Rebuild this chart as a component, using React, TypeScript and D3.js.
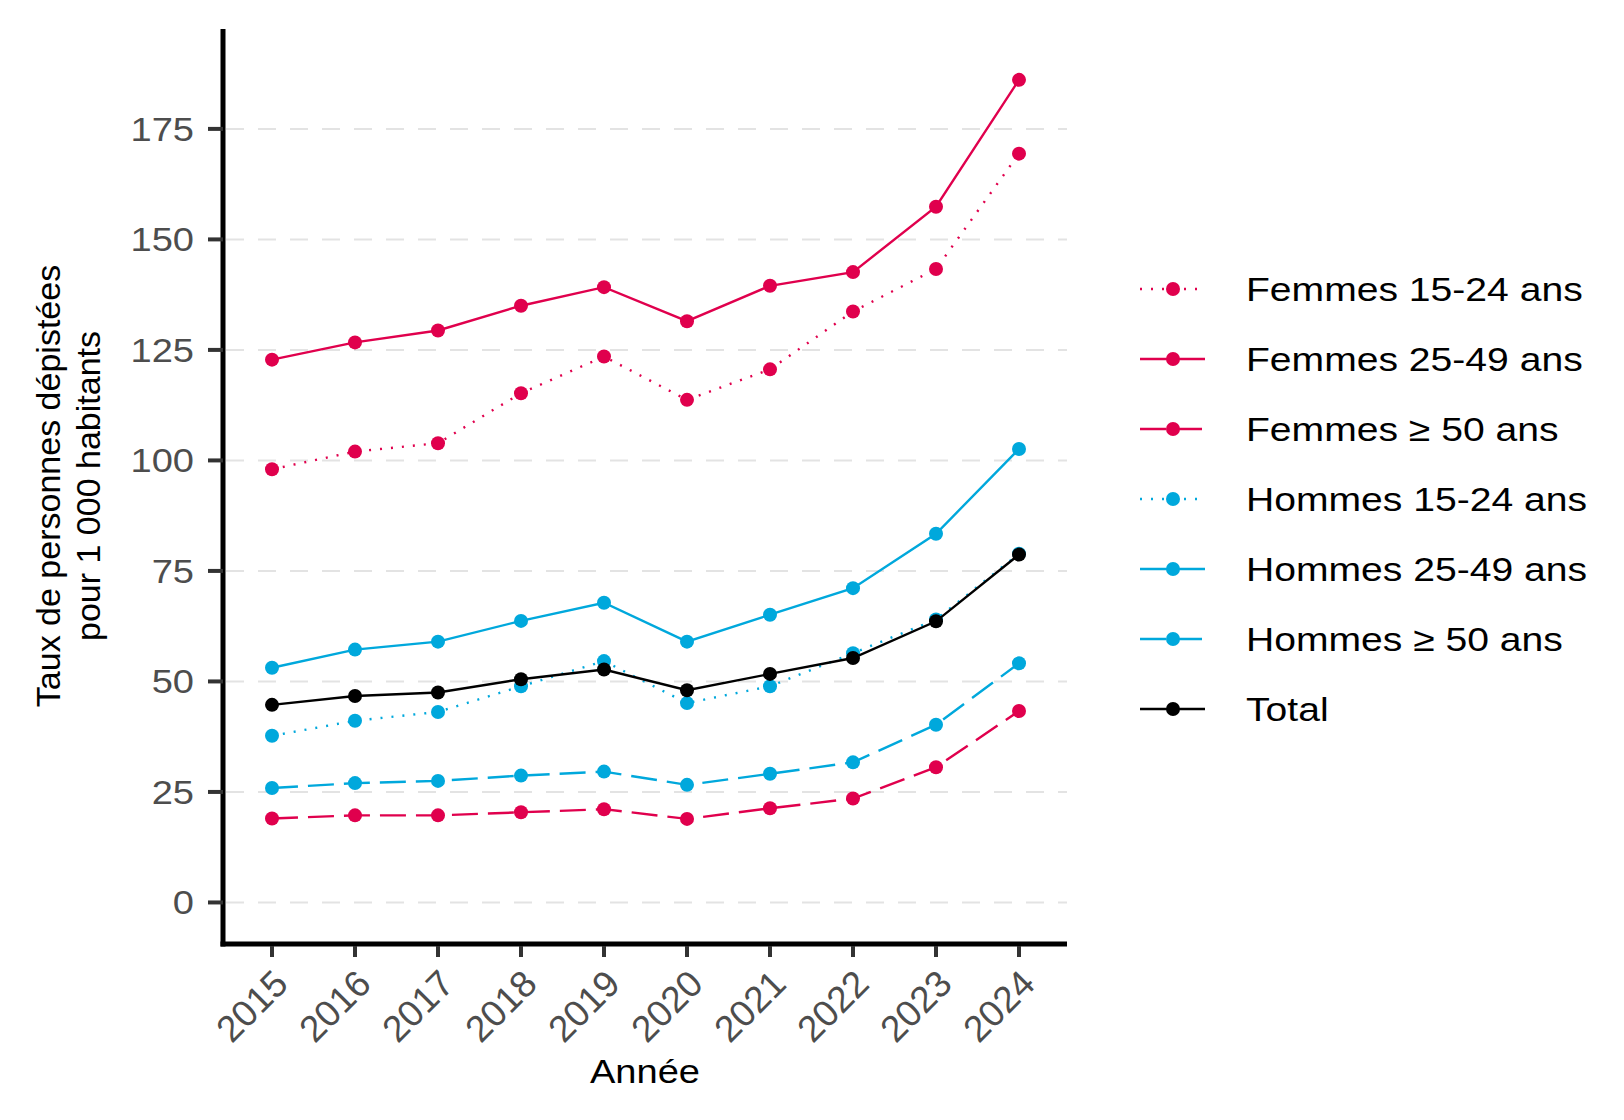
import React from 'react';
import * as d3 from 'd3';

const years = ['2015', '2016', '2017', '2018', '2019', '2020', '2021', '2022', '2023', '2024'];

const femmes1524 = [98.0, 102.0, 103.9, 115.2, 123.5, 113.7, 120.6, 133.7, 143.3, 169.4];
const femmes2549 = [122.8, 126.7, 129.4, 135.0, 139.2, 131.5, 139.5, 142.6, 157.4, 186.1];
const femmes50 = [19.0, 19.7, 19.7, 20.4, 21.1, 18.9, 21.3, 23.5, 30.6, 43.3];
const hommes1524 = [37.7, 41.1, 43.1, 48.9, 54.6, 45.1, 48.9, 56.4, 64.0, 78.9];
const hommes2549 = [53.1, 57.2, 59.0, 63.7, 67.8, 59.0, 65.1, 71.1, 83.4, 102.6];
const hommes50 = [25.9, 27.0, 27.5, 28.7, 29.6, 26.6, 29.1, 31.7, 40.2, 54.1];
const total = [44.7, 46.7, 47.5, 50.5, 52.7, 48.0, 51.7, 55.3, 63.6, 78.7];

const yTicks = [0, 25, 50, 75, 100, 125, 150, 175];

const ROSE = '#e0004d';
const CYAN = '#00a8dc';
const DOTTED = '2,9';
const DASHED = '26,10';

type Series = { name: string; values: number[]; color: string; dash: string | null };

const series: Series[] = [
  { name: 'Femmes 15-24 ans', values: femmes1524, color: ROSE, dash: DOTTED },
  { name: 'Femmes 25-49 ans', values: femmes2549, color: ROSE, dash: null },
  { name: 'Femmes ≥ 50 ans', values: femmes50, color: ROSE, dash: DASHED },
  { name: 'Hommes 15-24 ans', values: hommes1524, color: CYAN, dash: DOTTED },
  { name: 'Hommes 25-49 ans', values: hommes2549, color: CYAN, dash: null },
  { name: 'Hommes ≥ 50 ans', values: hommes50, color: CYAN, dash: DASHED },
  { name: 'Total', values: total, color: '#000000', dash: null },
];

const FONT = '"Liberation Sans", Arial, Helvetica, sans-serif';
const STRETCH = 1.12;

const App: React.FC = () => {
  const left = 223;
  const right = 1067;
  const top = 29;
  const bottom = 944;

  const x = d3.scalePoint<string>().domain(years).range([272, 1019]);
  const y = d3.scaleLinear().domain([-9.4, 197.6]).range([bottom, top]);

  const line = d3
    .line<number>()
    .x((_, i) => x(years[i])!)
    .y((d) => y(d));

  const legendX = 1140;
  const legendY0 = 289;
  const legendStep = 70;

  return (
    <svg
      width={1624}
      height={1120}
      style={{ position: 'absolute', left: 0, top: 0, background: '#fff' }}
      fontFamily={FONT}
    >
      {/* grid */}
      {yTicks.map((t) => (
        <line
          key={'g' + t}
          x1={left + 3}
          x2={right}
          y1={y(t)}
          y2={y(t)}
          stroke="#e3e3e3"
          strokeWidth={2}
          strokeDasharray="18,14"
        />
      ))}

      {/* series */}
      {series.map((s) => (
        <g key={s.name}>
          <path
            d={line(s.values)!}
            fill="none"
            stroke={s.color}
            strokeWidth={2.4}
            strokeDasharray={s.dash ?? undefined}
          />
          {s.values.map((v, i) => (
            <circle key={i} cx={x(years[i])} cy={y(v)} r={7} fill={s.color} />
          ))}
        </g>
      ))}

      {/* axes */}
      <line x1={left} x2={left} y1={top} y2={bottom + 2.5} stroke="#000" strokeWidth={5} />
      <line x1={left - 2.5} x2={right} y1={bottom} y2={bottom} stroke="#000" strokeWidth={5} />

      {yTicks.map((t) => (
        <g key={'y' + t}>
          <line x1={208} x2={left} y1={y(t)} y2={y(t)} stroke="#333" strokeWidth={4} />
          <text
            transform={`translate(194,${y(t)}) scale(${STRETCH},1)`}
            textAnchor="end"
            dominantBaseline="central"
            fontSize={34}
            fill="#4d4d4d"
          >
            {t}
          </text>
        </g>
      ))}

      {years.map((yr) => (
        <g key={'x' + yr}>
          <line x1={x(yr)} x2={x(yr)} y1={bottom + 2} y2={957} stroke="#333" strokeWidth={4} />
          <text
            transform={`translate(${x(yr)! + 18},${986}) rotate(-45)`}
            textAnchor="end"
            fontSize={37}
            fill="#4d4d4d"
          >
            {yr}
          </text>
        </g>
      ))}

      {/* axis titles */}
      <text
        transform={`translate(${(left + right) / 2},1083) scale(${STRETCH},1)`}
        textAnchor="middle"
        fontSize={34}
        fill="#000"
      >
        Année
      </text>
      <text transform="translate(60,486) rotate(-90)" textAnchor="middle" fontSize={34} fill="#000">
        Taux de personnes dépistées
      </text>
      <text transform="translate(100,486) rotate(-90)" textAnchor="middle" fontSize={34} fill="#000">
        pour 1 000 habitants
      </text>

      {/* legend */}
      {series.map((s, i) => {
        const cy = legendY0 + i * legendStep;
        return (
          <g key={'l' + s.name}>
            <line
              x1={legendX}
              x2={legendX + 65}
              y1={cy}
              y2={cy}
              stroke={s.color}
              strokeWidth={2.4}
              strokeDasharray={s.dash ?? undefined}
            />
            <circle cx={legendX + 33} cy={cy} r={7} fill={s.color} />
            <text
              transform={`translate(1246,${cy}) scale(1.15,1)`}
              dominantBaseline="central"
              fontSize={34}
              fill="#000"
            >
              {s.name}
            </text>
          </g>
        );
      })}
    </svg>
  );
};

export default App;
